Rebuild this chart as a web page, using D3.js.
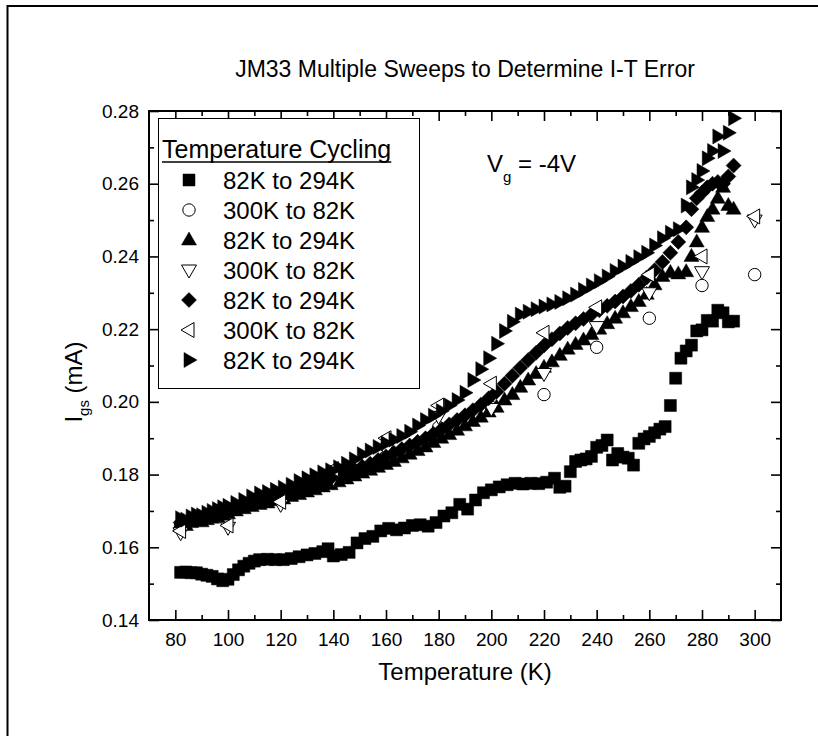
<!DOCTYPE html>
<html>
<head>
<meta charset="utf-8">
<script src="https://cdn.jsdelivr.net/npm/d3@7"></script>
<style>
  body { margin: 0; background: #fff; }
  svg text { font-family: "Liberation Sans", Arial, sans-serif; fill: #000; }
</style>
</head>
<body>
<div id="chart"></div>
<script>
// data (temperature in K, current in mA)
const sqT = [82, 84, 86, 88, 90, 92, 94, 96, 98, 100, 102, 104, 106, 108, 110, 112, 115, 118, 121, 124, 127, 130, 133, 136, 138, 140, 143, 146, 149, 152, 155, 158, 161, 164, 167, 170, 173, 176, 179, 182, 185, 188, 191, 194, 197, 200, 203, 206, 209, 212, 215, 218, 221, 224, 226, 228, 230, 232, 234, 236, 238, 240, 242, 244, 246, 248, 250, 252, 254, 256, 258, 260, 262, 264, 266, 268, 270, 272, 274, 276, 278, 280, 282, 284, 286, 288, 290, 292];
const sqI = [.1531, .1532, .1530, .1530, .1526, .1523, .1520, .1513, .1508, .1512, .1525, .1538, .1548, .1556, .1562, .1566, .1567, .1566, .1566, .1569, .1574, .1579, .1583, .1588, .1596, .1576, .1580, .1586, .1612, .1624, .1630, .1645, .1652, .1648, .1653, .1660, .1662, .1658, .1668, .1686, .1695, .1718, .1705, .1730, .1750, .1758, .1766, .1772, .1776, .1774, .1776, .1775, .1779, .1790, .1765, .1768, .1808, .1836, .1840, .1843, .1850, .1875, .1880, .1895, .1840, .1858, .1848, .1845, .1826, .1886, .1898, .1905, .1915, .1925, .1932, .1990, .2065, .2120, .2140, .2156, .2195, .2198, .2224, .2222, .2252, .2245, .2220, .2222];

const circT = [82, 100, 120, 140, 160, 180, 200, 220, 240, 260, 280, 300];
const circI = [.1660, .1700, .1745, .1778, .1850, .1930, .1985, .2020, .2150, .2230, .2320, .2350];

const upT = [82, 84, 86, 88, 90, 92, 94, 96, 98, 100, 103, 106, 109, 112, 115, 118, 121, 124, 127, 130, 133, 136, 139, 142, 145, 148, 151, 154, 157, 160, 163, 166, 169, 172, 175, 178, 181, 184, 187, 190, 193, 196, 199, 202, 205, 208, 211, 214, 217, 220, 223, 226, 229, 232, 235, 238, 241, 244, 247, 250, 253, 256, 259, 262, 265, 268, 271, 274, 276, 278, 280, 282, 284, 286, 288, 290, 292];
const upI = [.1665, .1660, .1668, .1672, .1670, .1676, .1680, .1683, .1688, .1692, .1700, .1706, .1712, .1718, .1722, .1728, .1733, .1740, .1745, .1752, .1758, .1766, .1772, .1780, .1788, .1796, .1804, .1812, .1820, .1828, .1836, .1846, .1856, .1866, .1876, .1888, .1900, .1910, .1922, .1934, .1946, .1958, .1972, .1985, .2005, .2020, .2040, .2060, .2078, .2095, .2110, .2128, .2145, .2158, .2170, .2185, .2200, .2215, .2230, .2245, .2262, .2276, .2296, .2322, .2345, .2356, .2352, .2358, .2400, .2440, .2480, .2510, .2530, .2560, .2590, .2540, .2530];

const downT = [82, 100, 120, 140, 160, 180, 200, 220, 240, 260, 280, 300];
const downI = [.1640, .1655, .1718, .1790, .1870, .1960, .1982, .2078, .2207, .2300, .2358, .2500];

const diaT = [82, 85, 88, 91, 94, 97, 100, 103, 106, 109, 112, 115, 118, 121, 124, 127, 130, 133, 136, 139, 142, 145, 148, 151, 154, 157, 160, 163, 166, 169, 172, 175, 178, 181, 184, 187, 190, 193, 196, 199, 202, 205, 208, 211, 214, 217, 220, 223, 226, 229, 232, 235, 238, 241, 244, 247, 250, 253, 256, 259, 262, 265, 268, 271, 274, 276, 278, 280, 282, 284, 286, 288, 290, 292];
const diaI = [.1668, .1672, .1678, .1684, .1690, .1696, .1702, .1708, .1715, .1720, .1726, .1732, .1740, .1746, .1752, .1760, .1768, .1774, .1782, .1790, .1798, .1806, .1814, .1822, .1830, .1840, .1850, .1860, .1870, .1880, .1890, .1900, .1912, .1924, .1938, .1950, .1963, .1977, .1992, .2010, .2028, .2050, .2072, .2094, .2115, .2135, .2155, .2172, .2188, .2203, .2216, .2228, .2240, .2252, .2264, .2276, .2290, .2305, .2322, .2342, .2362, .2385, .2410, .2440, .2480, .2530, .2560, .2575, .2590, .2600, .2605, .2600, .2620, .2650];

const leftT = [82, 100, 120, 140, 160, 180, 200, 220, 240, 260, 280, 300];
const leftI = [.1645, .1660, .1725, .1815, .1900, .1990, .2050, .2190, .2260, .2350, .2400, .2510];

const rightT = [82, 84, 86, 88, 90, 92, 94, 96, 98, 100, 103, 106, 109, 112, 115, 118, 121, 124, 127, 130, 133, 136, 139, 142, 145, 148, 151, 154, 157, 160, 163, 166, 169, 172, 175, 178, 181, 184, 187, 190, 193, 196, 199, 202, 205, 208, 211, 214, 217, 220, 223, 226, 229, 232, 235, 238, 241, 244, 247, 250, 253, 256, 259, 262, 265, 268, 271, 274, 276, 278, 280, 282, 284, 286, 288, 290, 292];
const rightI = [.1680, .1676, .1685, .1690, .1688, .1695, .1700, .1705, .1710, .1714, .1722, .1730, .1740, .1748, .1752, .1758, .1764, .1772, .1782, .1790, .1798, .1806, .1812, .1820, .1830, .1842, .1856, .1866, .1876, .1886, .1896, .1906, .1918, .1935, .1950, .1962, .1975, .1990, .2005, .2025, .2060, .2090, .2120, .2160, .2195, .2220, .2240, .2248, .2255, .2262, .2268, .2275, .2285, .2295, .2308, .2320, .2332, .2345, .2360, .2372, .2385, .2398, .2410, .2430, .2450, .2465, .2475, .2540, .2590, .2610, .2635, .2670, .2690, .2730, .2690, .2740, .2780];

const seriesNames = ["82K to 294K", "300K to 82K", "82K to 294K", "300K to 82K", "82K to 294K", "300K to 82K", "82K to 294K"];
const seriesShapes = ["square", "circle", "up", "down", "diamond", "left", "right"];
const seriesFilled = [true, false, true, false, true, false, true];

const xTicks = [80, 100, 120, 140, 160, 180, 200, 220, 240, 260, 280, 300];
const xMinor = [90, 110, 130, 150, 170, 190, 210, 230, 250, 270, 290];
const yTicks = [0.14, 0.16, 0.18, 0.20, 0.22, 0.24, 0.26, 0.28];
const yMinor = [0.15, 0.17, 0.19, 0.21, 0.23, 0.25, 0.27];

const series = [
  [sqT, sqI], [circT, circI], [upT, upI], [downT, downI],
  [diaT, diaI], [leftT, leftI], [rightT, rightI]
].map(([t, v], i) => ({
  name: seriesNames[i], shape: seriesShapes[i], filled: seriesFilled[i],
  points: t.map((d, j) => ({ t: d, v: v[j] }))
}));

const W = 818, H = 736;
const plot = { left: 149, right: 781, top: 111, bottom: 620 };

const svg = d3.select("#chart").append("svg")
  .attr("width", W).attr("height", H)
  .attr("viewBox", [0, 0, W, H]);

// outer frame (only left/top edges fall inside the picture)
svg.append("rect")
  .attr("x", 7.5).attr("y", 6).attr("width", 840).attr("height", 760)
  .attr("fill", "none").attr("stroke", "#000").attr("stroke-width", 2);

const x = d3.scaleLinear().domain([70, 310]).range([plot.left, plot.right]);
const y = d3.scaleLinear().domain([0.14, 0.28]).range([plot.bottom, plot.top]);

// marker shapes
function markerPath(shape) {
  switch (shape) {
    case "square": return "M-6,-6H6V6H-6Z";
    case "circle": return "M6.2,0A6.2,6.2 0 1,1 -6.2,0A6.2,6.2 0 1,1 6.2,0Z";
    case "up": return "M0,-8L7.5,5L-7.5,5Z";
    case "down": return "M0,8L7.5,-5L-7.5,-5Z";
    case "diamond": return "M0,-7.5L7.5,0L0,7.5L-7.5,0Z";
    case "left": return "M-8,0L5,-7.5L5,7.5Z";
    case "right": return "M8,0L-5,-7.5L-5,7.5Z";
  }
}

// axes, ticks pointing inward on all four sides
function styleAxis(g) {
  g.select(".domain").remove();
  g.selectAll("line").attr("stroke", "#000").attr("stroke-width", 1.6);
  g.selectAll("text").style("font-size", "19px").attr("font-family", null);
}

svg.append("g").attr("transform", `translate(0,${plot.bottom})`)
  .call(d3.axisBottom(x).tickValues(xTicks).tickSize(-10).tickPadding(13).tickFormat(d3.format("d")))
  .call(styleAxis);
svg.append("g").attr("transform", `translate(0,${plot.bottom})`)
  .call(d3.axisBottom(x).tickValues(xMinor).tickSize(-5).tickFormat(""))
  .call(styleAxis);
svg.append("g").attr("transform", `translate(0,${plot.top})`)
  .call(d3.axisTop(x).tickValues(xTicks).tickSize(-10).tickFormat(""))
  .call(styleAxis);
svg.append("g").attr("transform", `translate(0,${plot.top})`)
  .call(d3.axisTop(x).tickValues(xMinor).tickSize(-5).tickFormat(""))
  .call(styleAxis);
svg.append("g").attr("transform", `translate(${plot.left},0)`)
  .call(d3.axisLeft(y).tickValues(yTicks).tickSize(-10).tickPadding(10).tickFormat(d3.format(".2f")))
  .call(styleAxis);
svg.append("g").attr("transform", `translate(${plot.left},0)`)
  .call(d3.axisLeft(y).tickValues(yMinor).tickSize(-5).tickFormat(""))
  .call(styleAxis);
svg.append("g").attr("transform", `translate(${plot.right},0)`)
  .call(d3.axisRight(y).tickValues(yTicks).tickSize(-10).tickFormat(""))
  .call(styleAxis);
svg.append("g").attr("transform", `translate(${plot.right},0)`)
  .call(d3.axisRight(y).tickValues(yMinor).tickSize(-5).tickFormat(""))
  .call(styleAxis);

// plot frame
svg.append("rect")
  .attr("x", plot.left).attr("y", plot.top)
  .attr("width", plot.right - plot.left).attr("height", plot.bottom - plot.top)
  .attr("fill", "none").attr("stroke", "#000").attr("stroke-width", 2);

// data markers
series.forEach(s => {
  svg.append("g").selectAll("path")
    .data(s.points)
    .join("path")
    .attr("transform", d => `translate(${x(d.t)},${y(d.v)})`)
    .attr("d", markerPath(s.shape))
    .attr("fill", s.filled ? "#000" : "#fff")
    .attr("stroke", "#000")
    .attr("stroke-width", s.filled ? 0.5 : 1);
});

// legend
const legend = svg.append("g");
legend.append("rect")
  .attr("x", 158.5).attr("y", 118.5).attr("width", 261).attr("height", 270)
  .attr("fill", "#fff").attr("stroke", "#000").attr("stroke-width", 1);
const lt = legend.append("text")
  .attr("x", 162).attr("y", 157.5)
  .style("font-size", "25px")
  .text("Temperature Cycling");
const ltw = lt.node().getComputedTextLength();
legend.append("line")
  .attr("x1", 162).attr("x2", 162 + ltw)
  .attr("y1", 162).attr("y2", 162)
  .attr("stroke", "#000").attr("stroke-width", 1.5);

series.forEach((s, i) => {
  const cy = 180 + i * 30;
  legend.append("path")
    .attr("transform", `translate(189,${cy})`)
    .attr("d", markerPath(s.shape))
    .attr("fill", s.filled ? "#000" : "#fff")
    .attr("stroke", "#000")
    .attr("stroke-width", s.filled ? 0.5 : 1);
  legend.append("text")
    .attr("x", 223).attr("y", cy + 8.5)
    .style("font-size", "24px")
    .text(s.name);
});

// title and labels
svg.append("text")
  .attr("x", (plot.left + plot.right) / 2).attr("y", 77)
  .attr("text-anchor", "middle")
  .style("font-size", "23px")
  .text("JM33 Multiple Sweeps to Determine I-T Error");

svg.append("text")
  .attr("x", (plot.left + plot.right) / 2).attr("y", 680)
  .attr("text-anchor", "middle")
  .style("font-size", "24px")
  .text("Temperature (K)");

const yl = svg.append("text")
  .attr("transform", "translate(82,382) rotate(-90)")
  .attr("text-anchor", "middle")
  .style("font-size", "24px");
yl.append("tspan").text("I");
yl.append("tspan").attr("dy", 7).style("font-size", "15px").text("gs");
yl.append("tspan").attr("dy", -7).text(" (mA)");

const vg = svg.append("text")
  .attr("x", 487).attr("y", 172)
  .style("font-size", "24px");
vg.append("tspan").text("V");
vg.append("tspan").attr("dy", 10).style("font-size", "15px").text("g");
vg.append("tspan").attr("dy", -10).text(" = -4V");
</script>
</body>
</html>
